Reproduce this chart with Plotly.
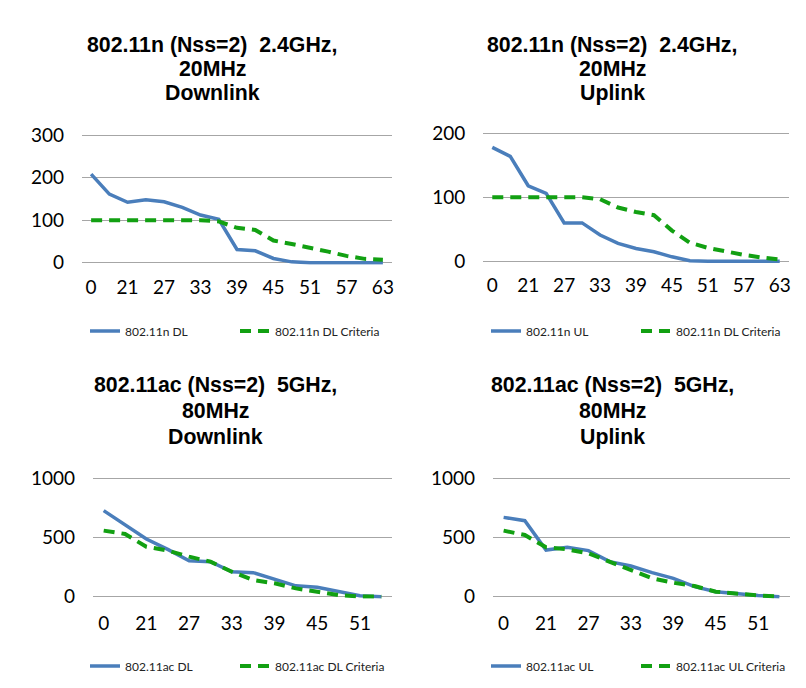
import plotly.graph_objects as go

# categories
cats_n = [0, 18, 21, 24, 27, 30, 33, 36, 39, 42, 45, 48, 51, 54, 57, 60, 63]
cats_ac = [0, 18, 21, 24, 27, 30, 33, 36, 39, 42, 45, 48, 51, 54]

n_dl = [208, 161, 142, 148, 143, 130, 112, 102, 31, 28, 10, 2, 0, 0, 0, 0, 0]
n_dl_crit = [100, 100, 100, 100, 100, 100, 100, 97, 82, 77, 52, 44, 36, 26, 16, 9, 7]
n_ul = [178, 164, 118, 106, 60, 60, 41, 28, 20, 15, 7, 1, 0, 0, 0, 0, 0]
n_ul_crit = [100, 100, 100, 100, 100, 100, 97, 84, 77, 72, 48, 29, 21, 15, 10, 6, 3]
ac_dl = [727, 606, 487, 400, 304, 296, 211, 203, 146, 92, 79, 42, 8, 0]
ac_dl_crit = [558, 530, 422, 389, 338, 296, 211, 141, 113, 70, 42, 14, 2, 0]
ac_ul = [670, 642, 394, 417, 389, 296, 259, 203, 155, 85, 42, 23, 11, 0]
ac_ul_crit = [558, 521, 417, 400, 366, 296, 225, 155, 118, 90, 42, 23, 11, 0]

titles = [
    ["802.11n (Nss=2)\u00a0 2.4GHz,", "20MHz", "Downlink"],
    ["802.11n (Nss=2)\u00a0 2.4GHz,", "20MHz", "Uplink"],
    ["802.11ac (Nss=2)\u00a0 5GHz,", "80MHz", "Downlink"],
    ["802.11ac (Nss=2)\u00a0 5GHz,", "80MHz", "Uplink"],
]
names = [
    ("802.11n DL", "802.11n DL Criteria"),
    ("802.11n UL", "802.11n DL Criteria"),
    ("802.11ac DL", "802.11ac DL Criteria"),
    ("802.11ac UL", "802.11ac UL Criteria"),
]
series = [(cats_n, n_dl, n_dl_crit), (cats_n, n_ul, n_ul_crit),
          (cats_ac, ac_dl, ac_dl_crit), (cats_ac, ac_ul, ac_ul_crit)]
ymax = [300, 200, 1000, 1000]
ydticks = [100, 100, 500, 500]

OFF = 8  # page body margin
W, H = 806 - 2 * OFF, 688 - 2 * OFF
# plot areas in screen pixels (left, right, top(ymax), bottom(0))
areas = [(82, 392, 135, 262.7), (483.3, 788.7, 133.3, 261.3),
         (93, 392, 478.3, 596.7), (493, 790, 478.3, 596.7)]
title_cx = [212, 612, 215, 612]
title_cy = [[45, 69, 93], [45, 69, 93], [385, 411, 437], [385, 411, 437]]
legend_x = [85, 486, 85, 486]
legend_y = [331, 331, 666, 666]
xstandoff = [11, 11, 13, 13]

BLUE = "#4A7EBB"
GREEN = "#12A012"
FONT = "Lato"


def fx(p):
    return (p - OFF) / W


def fy(p):
    return 1 - (p - OFF) / H


fig = go.Figure()
for k in range(4):
    cats, a, b = series[k]
    xs = [str(c) for c in cats]
    ax = "" if k == 0 else str(k + 1)
    lg = "legend" if k == 0 else "legend%d" % (k + 1)
    fig.add_trace(go.Scatter(x=xs, y=a, mode="lines", name=names[k][0],
                             line=dict(color=BLUE, width=3.5),
                             xaxis="x" + ax, yaxis="y" + ax, legend=lg))
    fig.add_trace(go.Scatter(x=xs, y=b, mode="lines", name=names[k][1],
                             line=dict(color=GREEN, width=4, dash="11px,7px"),
                             xaxis="x" + ax, yaxis="y" + ax, legend=lg))
    l, r, t, btm = areas[k]
    n = len(cats)
    scale = (btm - t) / ymax[k]
    pad = 2.0 / scale
    fig.layout["xaxis" + ax] = dict(
        domain=[fx(l), fx(r)], anchor="y" + ax, type="category",
        range=[-0.5, n - 0.5], tickmode="array",
        tickvals=xs[::2], ticktext=xs[::2],
        showgrid=False, showline=False, zeroline=False, ticks="",
        ticklabelstandoff=xstandoff[k] - 2,
        tickfont=dict(family=FONT, size=19, color="#000"))
    fig.layout["yaxis" + ax] = dict(
        domain=[fy(btm + 2), fy(t - 2)], anchor="x" + ax,
        range=[-pad, ymax[k] + pad], tickmode="array",
        tickvals=list(range(0, ymax[k] + 1, ydticks[k])), showgrid=True,
        gridcolor="#A6A6A6", gridwidth=1, zeroline=False, showline=False,
        ticks="", ticklabelstandoff=17,
        tickfont=dict(family=FONT, size=19, color="#000"))
    fig.layout[lg] = dict(
        orientation="h", x=fx(legend_x[k]), y=fy(legend_y[k]),
        xanchor="left", yanchor="middle", bgcolor="rgba(0,0,0,0)",
        font=dict(family=FONT, size=12, color="#222"), itemwidth=30,
        entrywidth=105, tracegroupgap=0)
    for j, line in enumerate(titles[k]):
        fig.add_annotation(text="<b>" + line + "</b>",
                           xref="paper", yref="paper",
                           x=fx(title_cx[k]), y=fy(title_cy[k][j]),
                           xanchor="center", yanchor="middle", showarrow=False,
                           font=dict(family="Liberation Sans", size=21.3,
                                     color="#000"))

fig.update_layout(width=W, height=H,
                  margin=dict(l=0, r=0, t=0, b=0, pad=0, autoexpand=False),
                  paper_bgcolor="white", plot_bgcolor="white", showlegend=True)
fig.write_html("out.html")
